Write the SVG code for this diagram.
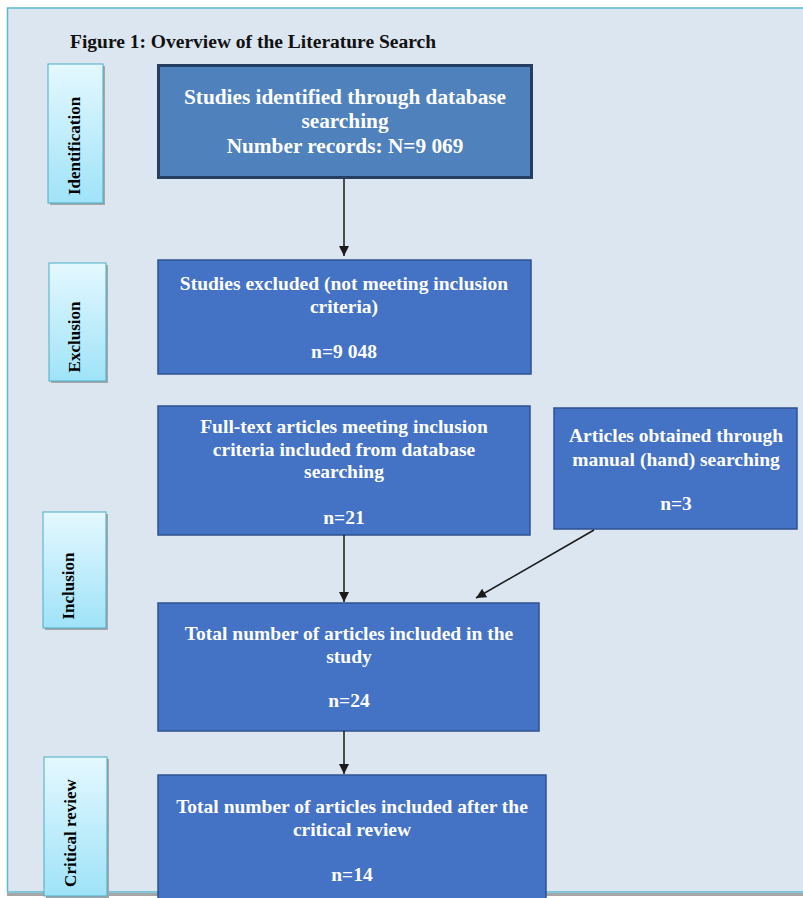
<svg xmlns="http://www.w3.org/2000/svg" width="803" height="898" viewBox="0 0 803 898">
<defs>
<linearGradient id="lg" x1="0" y1="0" x2="0" y2="1">
<stop offset="0" stop-color="#e4f8ff"/>
<stop offset="1" stop-color="#9fe3f8"/>
</linearGradient>
<marker id="ah" viewBox="0 0 10 10" refX="10" refY="5" markerWidth="10" markerHeight="10" markerUnits="userSpaceOnUse" orient="auto">
<path d="M0,0 L10,5 L0,10 z" fill="#1a1a1a"/>
</marker>
<style>
.lbl rect.s{fill:#a6a6a6}
.lbl rect.b{fill:url(#lg);stroke:#4bacc6;stroke-width:1}
.lbl text{font-family:"Liberation Serif",serif;font-weight:bold;font-size:17px;fill:#000;text-anchor:middle}
.node rect{fill:#4472c4;stroke:#2f528f;stroke-width:1.5}
.node text{font-family:"Liberation Serif",serif;font-weight:bold;font-size:19.5px;fill:#fff;text-anchor:middle}
.conn line{stroke:#1a1a1a;stroke-width:1.5;marker-end:url(#ah)}
</style>
</defs>
<rect x="0" y="0" width="803" height="898" fill="#fff"/>
<rect x="7" y="893" width="800" height="3" fill="#a6a6a6"/>
<rect x="7.5" y="8" width="800" height="884" fill="#dce6f1" stroke="#5bb8cf" stroke-width="1.5"/>
<text x="70" y="48" font-family="Liberation Serif, serif" font-weight="bold" font-size="18" fill="#111" textLength="366" lengthAdjust="spacingAndGlyphs">Figure 1: Overview of the Literature Search</text>

<g id="lbl-identification" class="lbl">
<rect class="s" x="50" y="66" width="55" height="139"/>
<rect class="b" x="48" y="64" width="55" height="139"/>
<text transform="translate(80,146) rotate(-90)">Identification</text>
</g>
<g id="lbl-exclusion" class="lbl">
<rect class="s" x="51" y="265" width="57" height="118"/>
<rect class="b" x="49" y="263" width="57" height="118"/>
<text transform="translate(80,337) rotate(-90)">Exclusion</text>
</g>
<g id="lbl-inclusion" class="lbl">
<rect class="s" x="45" y="514" width="63" height="116"/>
<rect class="b" x="43" y="512" width="63" height="116"/>
<text transform="translate(74,586) rotate(-90)">Inclusion</text>
</g>
<g id="lbl-critical" class="lbl">
<rect class="s" x="46" y="759" width="63" height="139"/>
<rect class="b" x="44" y="757" width="63" height="139"/>
<text transform="translate(76,833) rotate(-90)">Critical review</text>
</g>

<g id="n-identified" class="node">
<rect x="158.5" y="65.5" width="373" height="112" style="fill:#4f81bd;stroke:#243f60;stroke-width:3"/>
<text x="345" y="104" style="font-size:21.3px">Studies identified through database</text>
<text x="345" y="128" style="font-size:21.3px">searching</text>
<text x="345" y="153" style="font-size:21.3px">Number records: N=9 069</text>
</g>
<g id="n-excluded" class="node">
<rect x="158" y="260" width="373" height="114"/>
<text x="344" y="290">Studies excluded (not meeting inclusion</text>
<text x="344" y="313">criteria)</text>
<text x="344" y="358">n=9 048</text>
</g>
<g id="n-fulltext" class="node">
<rect x="158" y="406" width="372" height="129"/>
<text x="344" y="433">Full-text articles meeting inclusion</text>
<text x="344" y="456">criteria included from database</text>
<text x="344" y="478">searching</text>
<text x="344" y="524">n=21</text>
</g>
<g id="n-manual" class="node">
<rect x="554" y="408" width="243" height="121"/>
<text x="676" y="442">Articles obtained through</text>
<text x="676" y="466">manual (hand) searching</text>
<text x="676" y="510">n=3</text>
</g>
<g id="n-total" class="node">
<rect x="158" y="603" width="381" height="128"/>
<text x="349" y="640">Total number of articles included in the</text>
<text x="349" y="663">study</text>
<text x="349" y="707">n=24</text>
</g>
<g id="n-final" class="node">
<rect x="158" y="775" width="388" height="130"/>
<text x="352" y="813">Total number of articles included after the</text>
<text x="352" y="836">critical review</text>
<text x="352" y="881">n=14</text>
</g>

<g id="connectors" class="conn">
<line x1="344" y1="179" x2="344" y2="256"/>
<line x1="344" y1="535" x2="344" y2="602"/>
<line x1="344" y1="731" x2="344" y2="774"/>
<line x1="594" y1="530" x2="476" y2="598"/>
</g>
</svg>
